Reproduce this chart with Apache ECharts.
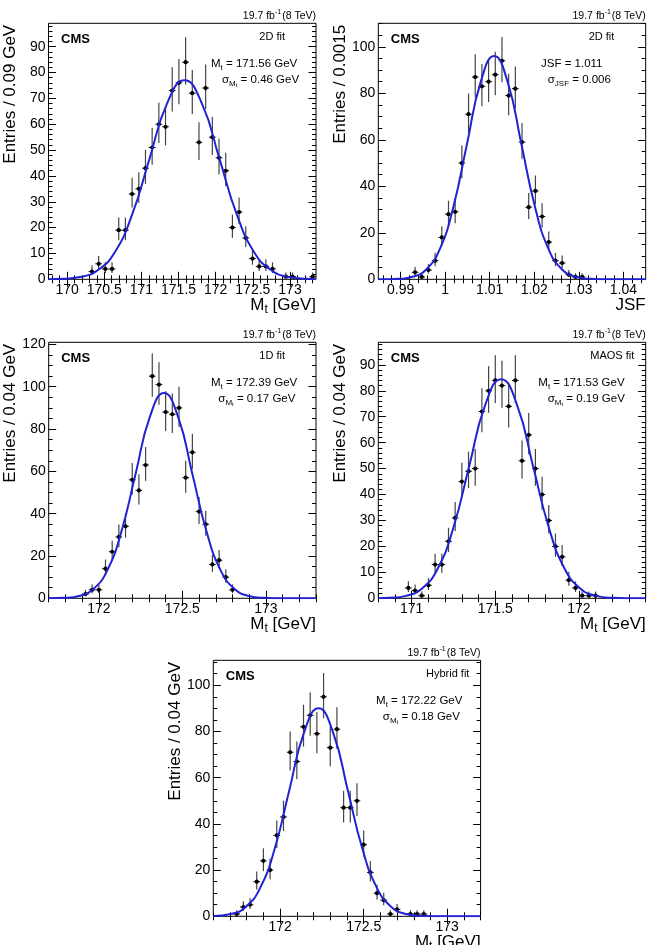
<!DOCTYPE html>
<html><head><meta charset="utf-8">
<script src="https://cdn.jsdelivr.net/npm/echarts@6/dist/echarts.min.js"></script>
<style>html,body{margin:0;padding:0;background:#fff}#c{width:651px;height:945px}</style>
</head><body><div id="c"></div>
<script>
// ---------------- DATA ----------------
// Panel 1: 2D fit, Mt
const p1Centers = [170.335,170.425,170.515,170.605,170.695,170.785,170.875,170.965,171.055,171.145,171.235,171.325,171.415,171.505,171.595,171.685,171.775,171.865,171.955,172.045,172.135,172.225,172.315,172.405,172.495,172.585,172.675,172.765,172.945,173.035,173.305];
const p1Counts = [3,6,4,4,19,19,33,35,43,51,60,59,73,76,84,72,53,74,55,47,42,20,26,16,8,5,5,4,1,1,1];
const p1FitX = [169.75,169.935,170.17,170.405,170.64,170.875,171.11,171.345,171.58,171.815,172.05,172.285,172.52,172.755,172.99,173.225,173.35];
const p1FitY = [0.04,0.17,0.86,3.38,10.4,25.0,46.7,68.0,77.0,68.0,46.7,25.0,10.4,3.38,0.86,0.17,0.06];
const p1XTicks = [170,170.5,171,171.5,172,172.5,173];
const p1YTicks = [0,10,20,30,40,50,60,70,80,90];

// Panel 2: 2D fit, JSF
const p2Centers = [0.99325,0.99475,0.99625,0.99775,0.99925,1.00075,1.00225,1.00375,1.00525,1.00675,1.00825,1.00975,1.01125,1.01275,1.01425,1.01575,1.01725,1.01875,1.02025,1.02175,1.02325,1.02475,1.02625,1.02775,1.02925,1.03075];
const p2Counts = [3,1,4,8,18,28,29,50,71,87,83,85,88,94,79,82,59,31,38,27,16,8,7,2,1,1];
const p2FitX = [0.985,0.9866,0.98965,0.9927,0.99575,0.9988,1.00185,1.0049,1.00795,1.011,1.01405,1.0171,1.02015,1.0232,1.02625,1.0293,1.03235,1.0354,1.03845,1.045];
const p2FitY = [0.01,0.03,0.21,1.07,4.21,13.0,31.2,58.2,84.7,96.0,84.7,58.2,31.2,13.0,4.21,1.07,0.21,0.03,0.004,0];
const p2XTicks = [0.99,1,1.01,1.02,1.03,1.04];
const p2YTicks = [0,20,40,60,80,100];

// Panel 3: 1D fit
const p3Centers = [171.92,171.96,172.00,172.04,172.08,172.12,172.16,172.20,172.24,172.28,172.32,172.36,172.40,172.44,172.48,172.52,172.56,172.60,172.64,172.68,172.72,172.76,172.80];
const p3Counts = [2,4,4,14,22,29,34,56,51,63,105,101,88,87,90,57,69,41,35,16,18,10,4];
const p3FitX = [171.7,171.795,171.88,171.965,172.05,172.135,172.22,172.305,172.39,172.475,172.56,172.645,172.73,172.815,172.9,172.985,173.07,173.155,173.3];
const p3FitY = [0.025,0.21,1.08,4.26,13.1,31.5,58.8,85.6,97.0,85.6,58.8,31.5,13.1,4.26,1.08,0.21,0.03,0.004,0];
const p3XTicks = [172,172.5,173];
const p3YTicks = [0,20,40,60,80,100,120];

// Panel 4: MAOS fit
const p4Centers = [170.98,171.02,171.06,171.10,171.14,171.18,171.22,171.26,171.30,171.34,171.38,171.42,171.46,171.50,171.54,171.58,171.62,171.66,171.70,171.74,171.78,171.82,171.86,171.90,171.94,171.98,172.02,172.06,172.10];
const p4Counts = [4,3,1,5,13,13,22,31,45,49,50,72,80,84,82,74,84,53,63,50,40,30,20,16,7,4,1,1,1];
const p4FitX = [170.8,170.87,170.965,171.06,171.155,171.25,171.345,171.44,171.535,171.63,171.725,171.82,171.915,172.01,172.105,172.2,172.295,172.4];
const p4FitY = [0.047,0.185,0.94,3.71,11.4,27.4,51.2,74.6,84.5,74.6,51.2,27.4,11.4,3.71,0.94,0.185,0.028,0.003];
const p4XTicks = [171,171.5,172];
const p4YTicks = [0,10,20,30,40,50,60,70,80,90];

// Panel 5: Hybrid fit
const p5Centers = [171.74,171.78,171.82,171.86,171.90,171.94,171.98,172.02,172.06,172.10,172.14,172.18,172.22,172.26,172.30,172.34,172.38,172.42,172.46,172.50,172.54,172.58,172.62,172.66,172.70,172.78,172.82,172.86];
const p5Counts = [1,4,5,15,24,20,35,43,71,67,82,87,79,95,73,81,47,47,50,31,19,10,7,1,3,1,1,1];
const p5FitX = [171.6,171.705,171.7925,171.88,171.9675,172.055,172.1425,172.23,172.3175,172.405,172.4925,172.58,172.6675,172.755,172.8425,172.93,173.2];
const p5FitY = [0.14,1.0,3.95,12.2,29.2,54.6,79.4,90.0,79.4,54.6,29.2,12.2,3.95,1.0,0.197,0.03,0];
const p5XTicks = [172,172.5,173];
const p5YTicks = [0,20,40,60,80,100];

// ---------------- LAYOUT / STYLE ----------------
const FONT = '"Liberation Sans", Arial, Helvetica, sans-serif';
const BLUE = '#2222d4';

const panels = [
  {L:48.5, T:23.3, W:267.5, H:256, xmin:169.75, xmax:173.35, ymax:99.05, bw:0.09,
   c:p1Centers, n:p1Counts, fx:p1FitX, fy:p1FitY, xt:p1XTicks, yt:p1YTicks, xminor:0.1, yminor:2},
  {L:378.3, T:23.3, W:267.4, H:256, xmin:0.985, xmax:1.045, ymax:110.1, bw:0.0015,
   c:p2Centers, n:p2Counts, fx:p2FitX, fy:p2FitY, xt:p2XTicks, yt:p2YTicks, xminor:0.002, yminor:5},
  {L:48.7, T:342.3, W:267.3, H:256, xmin:171.7, xmax:173.3, ymax:121, bw:0.04,
   c:p3Centers, n:p3Counts, fx:p3FitX, fy:p3FitY, xt:p3XTicks, yt:p3YTicks, xminor:0.1, yminor:5},
  {L:378.3, T:342.3, W:267.4, H:256, xmin:170.8, xmax:172.4, ymax:98.7, bw:0.04,
   c:p4Centers, n:p4Counts, fx:p4FitX, fy:p4FitY, xt:p4XTicks, yt:p4YTicks, xminor:0.1, yminor:2},
  {L:213.3, T:660.3, W:267.3, H:256, xmin:171.6, xmax:173.2, ymax:110.8, bw:0.04,
   c:p5Centers, n:p5Counts, fx:p5FitX, fy:p5FitY, xt:p5XTicks, yt:p5YTicks, xminor:0.1, yminor:5}
];

function minorTicks(lo, hi, step, majors) {
  const out = [];
  const k0 = Math.ceil(lo / step - 1e-9), k1 = Math.floor(hi / step + 1e-9);
  for (let k = k0; k <= k1; k++) {
    const v = +(k * step).toFixed(6);
    if (!majors.some(m => Math.abs(m - v) < step * 0.01)) out.push(v);
  }
  return out;
}

const grids = [], xAxes = [], yAxes = [], series = [];
const tickLine = {color:'#000', width:1};

panels.forEach((p, gi) => {
  grids.push({left:p.L, top:p.T, width:p.W, height:p.H, show:true, borderColor:'#000', borderWidth:1,
              backgroundColor:'transparent', containLabel:false, outerBoundsMode:'none'});
  const xMinors = minorTicks(p.xmin, p.xmax, p.xminor, p.xt);
  const yMinors = minorTicks(0, p.ymax, p.yminor, p.yt);
  const xBase = xAxes.length, yBase = yAxes.length;
  const xa = (pos, vals, len, lab) => ({
    type:'value', gridIndex:gi, min:p.xmin, max:p.xmax, position:pos, scale:true,
    axisLine:{show:false}, splitLine:{show:false},
    axisTick:{show:true, inside:true, length:len, customValues:vals, lineStyle:tickLine},
    axisLabel:lab ? {show:true, customValues:vals, margin:4, fontSize:14, color:'#000', fontFamily:FONT,
                     showMinLabel:true, showMaxLabel:true, hideOverlap:false} : {show:false}
  });
  const ya = (pos, vals, len, lab) => ({
    type:'value', gridIndex:gi, min:0, max:p.ymax, position:pos,
    axisLine:{show:false}, splitLine:{show:false},
    axisTick:{show:true, inside:true, length:len, customValues:vals, lineStyle:tickLine},
    axisLabel:lab ? {show:true, customValues:vals, margin:3, fontSize:14, color:'#000', fontFamily:FONT,
                     showMinLabel:true, showMaxLabel:true, hideOverlap:false} : {show:false}
  });
  xAxes.push(xa('bottom', p.xt, 7.5, true), xa('top', p.xt, 7.5, false),
             xa('bottom', xMinors, 4, false), xa('top', xMinors, 4, false));
  yAxes.push(ya('left', p.yt, 7.5, true), ya('right', p.yt, 7.5, false),
             ya('left', yMinors, 4, false), ya('right', yMinors, 4, false));

  const pts = p.c.map((x, i) => {
    const n = p.n[i];
    return [x, n, Math.sqrt(n + 0.25) + 0.5, Math.sqrt(n + 0.25) - 0.5];
  });
  const bw = p.bw;
  series.push({
    type:'custom', xAxisIndex:xBase, yAxisIndex:yBase, data:pts, z:3, silent:true,
    encode:{x:0, y:1},
    renderItem:(params, api) => {
      const x = api.value(0), y = api.value(1), up = api.value(2), lo = api.value(3);
      const c = api.coord([x, y]);
      const l = api.coord([x - bw / 2, y]), r = api.coord([x + bw / 2, y]);
      const t = api.coord([x, y + up]), b = api.coord([x, Math.max(0, y - lo)]);
      return {type:'group', children:[
        {type:'line', shape:{x1:l[0], y1:c[1], x2:r[0], y2:c[1]}, style:{stroke:'#111', lineWidth:1}},
        {type:'line', shape:{x1:c[0], y1:t[1], x2:c[0], y2:b[1]}, style:{stroke:'#444', lineWidth:1.2}},
        {type:'circle', shape:{cx:c[0], cy:c[1], r:2.1}, style:{fill:'#000'}}
      ]};
    }
  });
  series.push({
    type:'line', xAxisIndex:xBase, yAxisIndex:yBase, z:4, silent:true,
    data:p.fx.map((x, i) => [x, p.fy[i]]), smooth:0.5, showSymbol:false, clip:true,
    lineStyle:{color:BLUE, width:2}
  });
});

// ---------------- TEXT ----------------
const base = {fontFamily:FONT, fill:'#000'};
function txt(x, y, text, st, extra) {
  return Object.assign({type:'text', x, y, silent:true, z:10,
    style:Object.assign({text, fontFamily:FONT, fill:'#000', fontSize:11.5, align:'left', verticalAlign:'middle'}, st)}, extra || {});
}
const richFit = {
  n:Object.assign({fontSize:11.5, verticalAlign:'middle'}, base),
  s:Object.assign({fontSize:8, padding:[7,0,0,0], verticalAlign:'middle'}, base),
  ss:Object.assign({fontSize:6, padding:[12,0,0,0], verticalAlign:'middle'}, base)
};
const richLumi = {
  a:Object.assign({fontSize:10.5, verticalAlign:'middle'}, base),
  sup:Object.assign({fontSize:7, padding:[0,1,7,0], verticalAlign:'middle'}, base)
};
const richX = {
  n:Object.assign({fontSize:17, verticalAlign:'middle'}, base),
  s:Object.assign({fontSize:12, padding:[9,0,0,0], verticalAlign:'middle'}, base)
};

const textInfo = [
  {fit:'2D fit', l1:'{n|M}{s|t}{n| = 171.56 GeV}', l2:'{n|σ}{s|M}{ss|t}{n| = 0.46 GeV}', fitR:31, l1x:105, l2x:94,
   ytitle:'Entries / 0.09 GeV', xtitle:'{n|M}{s|t}{n| [GeV]}'},
  {fit:'2D fit', l1:'{n|JSF = 1.011}', l2:'{n|σ}{s|JSF}{n| = 0.006}', fitR:31.4, l1x:104.7, l2x:98,
   ytitle:'Entries / 0.0015', xtitle:'{n|JSF}'},
  {fit:'1D fit', l1:'{n|M}{s|t}{n| = 172.39 GeV}', l2:'{n|σ}{s|M}{ss|t}{n| = 0.17 GeV}', fitR:31, l1x:105, l2x:97.7,
   ytitle:'Entries / 0.04 GeV', xtitle:'{n|M}{s|t}{n| [GeV]}'},
  {fit:'MAOS fit', l1:'{n|M}{s|t}{n| = 171.53 GeV}', l2:'{n|σ}{s|M}{ss|t}{n| = 0.19 GeV}', fitR:11.4, l1x:107.4, l2x:98,
   ytitle:'Entries / 0.04 GeV', xtitle:'{n|M}{s|t}{n| [GeV]}'},
  {fit:'Hybrid fit', l1:'{n|M}{s|t}{n| = 172.22 GeV}', l2:'{n|σ}{s|M}{ss|t}{n| = 0.18 GeV}', fitR:11.2, l1x:104.5, l2x:97.8,
   ytitle:'Entries / 0.04 GeV', xtitle:'{n|M}{s|t}{n| [GeV]}'}
];
const ytitleX = [10, 340, 10, 340, 175];

const graphics = [];
panels.forEach((p, i) => {
  const ti = textInfo[i];
  const R = p.L + p.W, B = p.T + p.H;
  graphics.push(txt(R, p.T - 7.3, '{a|19.7 fb}{sup|-1}{a|(8 TeV)}', {align:'right', rich:richLumi}));
  graphics.push(txt(p.L + 12.5, p.T + 16.5, 'CMS', {fontSize:13, fontWeight:'bold'}));
  graphics.push(txt(R - ti.fitR, p.T + 13.2, ti.fit, {fontSize:11, align:'right'}));
  graphics.push(txt(R - ti.l1x, p.T + 40.8, ti.l1, {rich:richFit}));
  graphics.push(txt(R - ti.l2x, p.T + 56.5, ti.l2, {rich:richFit}));
  graphics.push(txt(R, B + 26, ti.xtitle, {align:'right', rich:richX}));
  graphics.push(txt(ytitleX[i], p.T + 1.5, ti.ytitle, {fontSize:17, align:'right'}, {rotation:Math.PI / 2}));
});

const chart = echarts.init(document.getElementById('c'), null, {renderer:'canvas'});
chart.setOption({
  animation:false,
  backgroundColor:'#fff',
  textStyle:{fontFamily:FONT},
  grid:grids, xAxis:xAxes, yAxis:yAxes, series:series,
  graphic:{elements:graphics}
});
</script>
</body></html>
